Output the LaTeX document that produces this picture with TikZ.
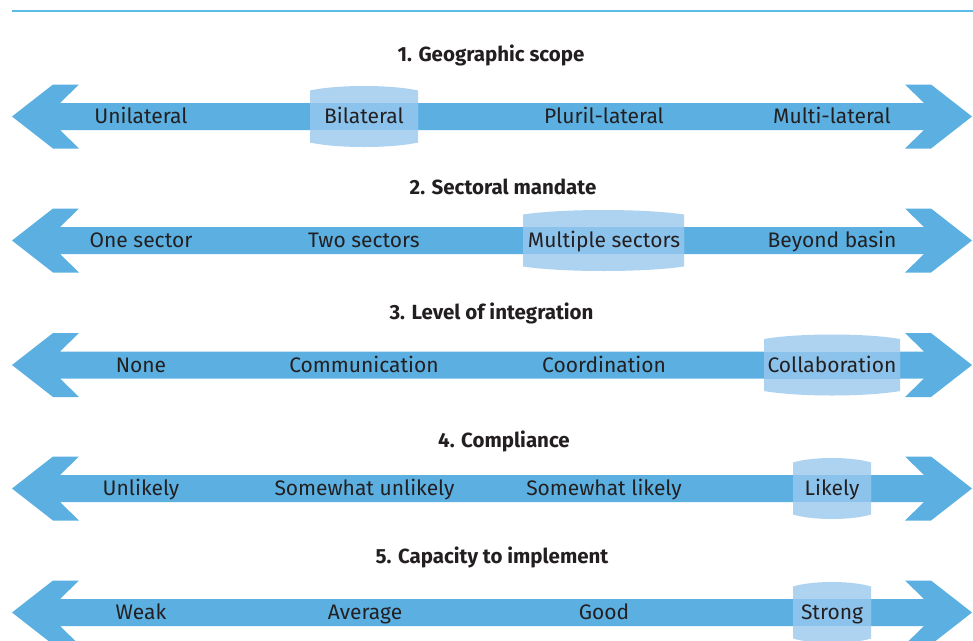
\documentclass[tikz,border=0pt]{standalone}
\usepackage{fontspec}
\setmainfont{Fira Sans}
\definecolor{arrowblue}{HTML}{5BB0E1}
\definecolor{boxblue}{HTML}{AED3F0}
\definecolor{overblue}{HTML}{8CC3EC}
\definecolor{linecol}{HTML}{5BBCE9}
\definecolor{txt}{HTML}{231F20}
\newcommand\dblarrow[1]{%
  \fill[arrowblue] (12,#1) -- (53,#1-32) -- (79,#1-32) -- (60,#1-13.5) -- (924,#1-13.5)
    -- (905,#1-32) -- (931,#1-32) -- (972,#1) -- (931,#1+32) -- (905,#1+32)
    -- (924,#1+13.5) -- (60,#1+13.5) -- (79,#1+32) -- (53,#1+32) -- cycle;}
\newcommand\hlbox[3]{%
  \fill[boxblue] (#1,#3-26) .. controls ({#1+(#2-#1)*0.25},#3-32) and ({#1+(#2-#1)*0.75},#3-32) .. (#2,#3-26)
    -- (#2,#3+26) .. controls ({#1+(#2-#1)*0.75},#3+32) and ({#1+(#2-#1)*0.25},#3+32) .. (#1,#3+26) -- cycle;
  \fill[overblue] (#1,#3-13.5) rectangle (#2,#3+13.5);}
\begin{document}
\begin{tikzpicture}[x=1pt,y=-1pt,
  lab/.style={font=\fontsize{21}{24}\selectfont, text=txt, inner sep=0pt, anchor=base},
  ttl/.style={font=\fontsize{20.5}{24}\selectfont\bfseries, text=txt, inner sep=0pt, anchor=base}]
\useasboundingbox (0,0) rectangle (973,640);
\draw[linecol, line width=1.3pt] (12,11) -- (973,11);

% Row 1
\node[ttl] (t1) at (491,61) {1. Geographic scope};
\dblarrow{116.5}
\hlbox{310}{418}{116.5}
\node[lab] (r1a) at (141,123.5) {Unilateral};
\node[lab] (r1b) at (364,123.5) {Bilateral};
\node[lab] (r1c) at (604,123.5) {Pluril-lateral};
\node[lab] (r1d) at (832,123.5) {Multi-lateral};

% Row 2
\node[ttl] (t2) at (503,194) {2. Sectoral mandate};
\dblarrow{240.5}
\hlbox{523}{684}{240.5}
\node[lab] (r2a) at (141,247.5) {One sector};
\node[lab] (r2b) at (364,247.5) {Two sectors};
\node[lab] (r2c) at (604,247.5) {Multiple sectors};
\node[lab] (r2d) at (832,247.5) {Beyond basin};

% Row 3
\node[ttl] (t3) at (491.5,319) {3. Level of integration};
\dblarrow{365}
\hlbox{764}{900}{365}
\node[lab] (r3a) at (141,372) {None};
\node[lab] (r3b) at (364,372) {Communication};
\node[lab] (r3c) at (604,372) {Coordination};
\node[lab] (r3d) at (832,372) {Collaboration};

% Row 4
\node[ttl] (t4) at (504,447) {4. Compliance};
\dblarrow{488.5}
\hlbox{793}{871}{488.5}
\node[lab] (r4a) at (141,495.5) {Unlikely};
\node[lab] (r4b) at (364.5,495.5) {Somewhat unlikely};
\node[lab] (r4c) at (604,495.5) {Somewhat likely};
\node[lab] (r4d) at (832,495.5) {Likely};

% Row 5
\node[ttl] (t5) at (492,563) {5. Capacity to implement};
\dblarrow{612.5}
\hlbox{793}{871}{612.5}
\node[lab] (r5a) at (141,619.5) {Weak};
\node[lab] (r5b) at (365,619.5) {Average};
\node[lab] (r5c) at (604,619.5) {Good};
\node[lab] (r5d) at (832,619.5) {Strong};
\end{tikzpicture}
\end{document}
